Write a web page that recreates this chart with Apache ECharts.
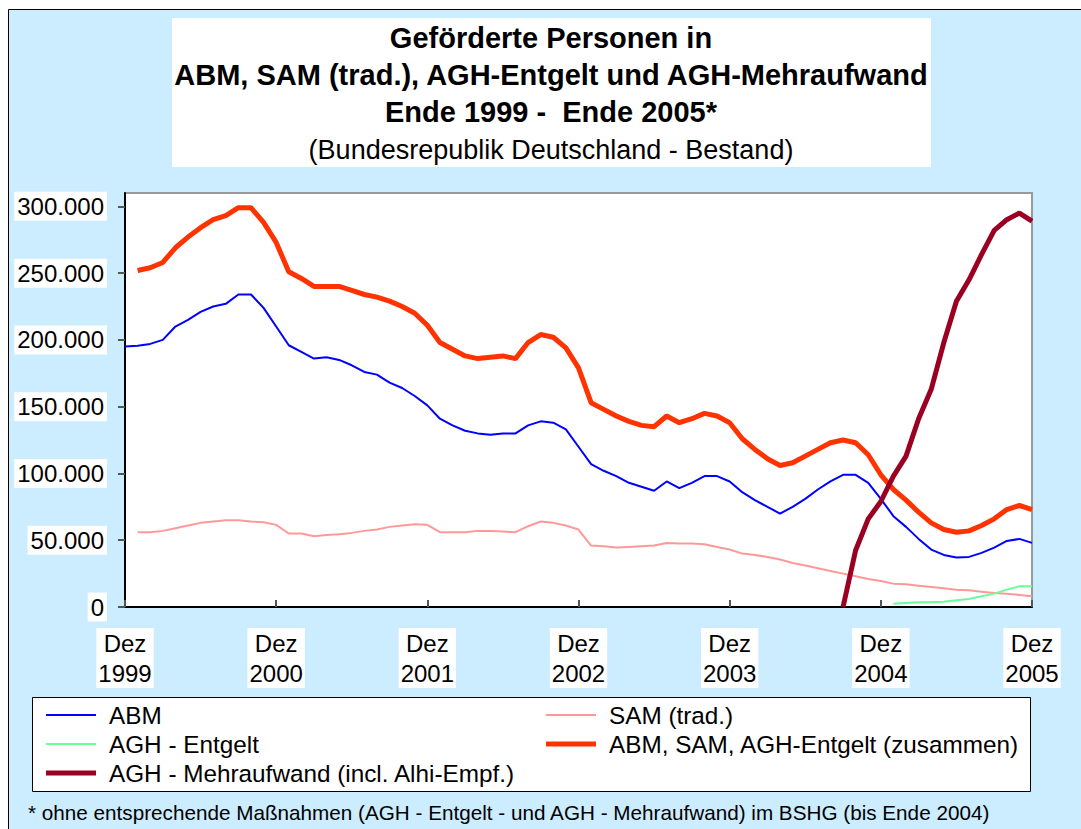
<!DOCTYPE html>
<html>
<head>
<meta charset="utf-8">
<title>Geförderte Personen</title>
<script src="https://cdn.jsdelivr.net/npm/echarts@6/dist/echarts.min.js"></script>
<style>
  html, body { margin: 0; padding: 0; background: #fff; }
  #chart { width: 1081px; height: 829px; }
</style>
</head>
<body>
<div id="chart"></div>
<script>
// Monate Dez 1999 .. Dez 2005
const months = []
for (let y = 1999; y <= 2005; y++) {
  const names = ['Jan', 'Feb', 'Mrz', 'Apr', 'Mai', 'Jun', 'Jul', 'Aug', 'Sep', 'Okt', 'Nov', 'Dez']
  names.forEach(function (m, k) {
    if (y === 1999 && k < 11) return
    months.push(m + '\n' + y)
  })
}

const abm = [
  195000, 195700, 197000, 200000, 210000, 215000, 221000, 225000, 227000, 234000, 234000, 224000,
  210000, 196000, 191000, 186000, 187000, 185000, 181000, 176000, 174000, 168000, 164000, 158000,
  151000, 141000, 136000, 132000, 130000, 129000, 130000, 130000, 136000, 139000, 138000, 133000,
  120000, 107000, 102000, 98000, 93000, 90000, 87000, 94000, 89000, 93000, 98000, 98000,
  94000, 86000, 80000, 75000, 70000, 75000, 81000, 88000, 94000, 99000, 99000, 93000,
  81000, 68000, 60000, 51000, 43000, 39000, 37000, 37500, 40500, 44500, 49500, 51000, 48000
]

const sam = [
  null, 56000, 56000, 57000, 59000, 61000, 63000, 64000, 65000, 65000, 64000, 63500,
  61500, 55000, 55000, 53000, 54000, 54500, 55500, 57000, 58000, 60000, 61000, 62000,
  61500, 56000, 56000, 56000, 57000, 57000, 56500, 56000, 60500, 64000, 63000, 61000,
  58000, 46000, 45500, 44500, 45000, 45500, 46000, 48000, 47500, 47500, 47000, 45000,
  43000, 40000, 39000, 37500, 35500, 33000, 31000, 29000, 27000, 25000, 23000, 21000,
  19500, 17500, 17000, 16000, 15000, 14000, 13000, 12500, 11500, 10500, 10000, 9000, 8000
]

const aghEntgelt = [
  null, null, null, null, null, null, null, null, null, null, null, null,
  null, null, null, null, null, null, null, null, null, null, null, null,
  null, null, null, null, null, null, null, null, null, null, null, null,
  null, null, null, null, null, null, null, null, null, null, null, null,
  null, null, null, null, null, null, null, null, null, null, null, null,
  null, 2500, 3000, 3500, 3500, 4000, 5000, 6000, 8000, 10000, 13000, 15500, 15500
]

const zusammen = [
  null, 252000, 254000, 258000, 269000, 277000, 284000, 290000, 293000, 299000, 299000, 288000,
  273000, 251000, 246000, 240000, 240000, 240000, 237000, 234000, 232000, 229000, 225000, 220000,
  211000, 198000, 193000, 188000, 186000, 187000, 188000, 186000, 198000, 204000, 202000, 194000,
  179000, 153000, 148000, 143000, 139000, 136000, 135000, 143000, 138000, 141000, 145000, 143000,
  138000, 126000, 118000, 111000, 106000, 108000, 113000, 118000, 123000, 125000, 123000, 114000,
  99000, 88000, 80000, 71000, 63000, 58000, 56000, 57000, 61000, 66000, 73000, 76000, 73000
]

const mehraufwand = [
  null, null, null, null, null, null, null, null, null, null, null, null,
  null, null, null, null, null, null, null, null, null, null, null, null,
  null, null, null, null, null, null, null, null, null, null, null, null,
  null, null, null, null, null, null, null, null, null, null, null, null,
  null, null, null, null, null, null, null, null, null, 0, 42500, 66000,
  79000, 98000, 113000, 141000, 163000, 198000, 229000, 245000, 264000, 282000, 290000, 295000, 289000
]

const yTicks = [0, 50000, 100000, 150000, 200000, 250000, 300000]

const FONT = '"Liberation Sans", Arial, sans-serif'

const myChart = echarts.init(document.getElementById('chart'), null, { renderer: 'svg' })

const fmt = function (v) {
  return String(v).replace(/\B(?=(\d{3})+(?!\d))/g, '.')
}

// Legendensymbol: einfache Linie (duenn / dick)
const thinLine = 'path://M0,0H50V2H0Z'
const thickLine = 'path://M0,0H50V5H0Z'

const option = {
  animation: false,
  backgroundColor: '#fff',
  textStyle: { fontFamily: FONT },
  graphic: [
    // Hintergrund
    {
      type: 'rect', z: -10, silent: true,
      shape: { x: 8.5, y: 9.5, width: 1100, height: 900 },
      style: { fill: '#CCECFF', stroke: '#000', lineWidth: 1 }
    },
    // Titelbox
    {
      type: 'rect', z: -9, silent: true,
      shape: { x: 172, y: 18, width: 759, height: 149 },
      style: { fill: '#fff' }
    },
    {
      type: 'text', x: 551, y: 38, silent: true,
      style: { text: 'Geförderte Personen in', font: 'bold 29px ' + FONT, fill: '#000', textAlign: 'center', textVerticalAlign: 'middle' }
    },
    {
      type: 'text', x: 551, y: 75, silent: true,
      style: { text: 'ABM, SAM (trad.), AGH-Entgelt und AGH-Mehraufwand', font: 'bold 29px ' + FONT, fill: '#000', textAlign: 'center', textVerticalAlign: 'middle' }
    },
    {
      type: 'text', x: 551, y: 112, silent: true,
      style: { text: 'Ende 1999 -  Ende 2005*', font: 'bold 29px ' + FONT, fill: '#000', textAlign: 'center', textVerticalAlign: 'middle' }
    },
    {
      type: 'text', x: 551, y: 150, silent: true,
      style: { text: '(Bundesrepublik Deutschland - Bestand)', font: '27px ' + FONT, fill: '#000', textAlign: 'center', textVerticalAlign: 'middle' }
    },
    // Legendenbox
    {
      type: 'rect', z: -8, silent: true,
      shape: { x: 32.5, y: 697.5, width: 998, height: 94 },
      style: { fill: '#fff', stroke: '#000', lineWidth: 1 }
    },
    // Fussnote
    {
      type: 'text', x: 28, y: 812.5, silent: true,
      style: { text: '* ohne entsprechende Maßnahmen (AGH - Entgelt - und AGH - Mehraufwand) im BSHG (bis Ende 2004)', font: '20.7px ' + FONT, fill: '#000', textAlign: 'left', textVerticalAlign: 'middle' }
    }
  ],
  legend: [
    {
      left: 46, top: 703, orient: 'vertical', padding: 0,
      itemWidth: 50, itemHeight: 14, itemGap: 5,
      textStyle: { fontSize: 24.3, color: '#000', fontFamily: FONT, padding: [0, 0, 0, 8] },
      data: [
        { name: 'ABM', icon: thinLine },
        { name: 'AGH - Entgelt', icon: thinLine },
        { name: 'AGH - Mehraufwand (incl. Alhi-Empf.)', icon: thickLine }
      ]
    },
    {
      left: 546, top: 703, orient: 'vertical', padding: 0,
      itemWidth: 50, itemHeight: 14, itemGap: 5,
      textStyle: { fontSize: 24.3, color: '#000', fontFamily: FONT, padding: [0, 0, 0, 8] },
      data: [
        { name: 'SAM (trad.)', icon: thinLine },
        { name: 'ABM, SAM, AGH-Entgelt (zusammen)', icon: thickLine }
      ]
    }
  ],
  grid: {
    left: 125, top: 193, right: 49, bottom: 222,
    show: true, backgroundColor: '#fff', borderColor: '#999', borderWidth: 2
  },
  xAxis: {
    type: 'category',
    boundaryGap: false,
    data: months,
    axisLine: { lineStyle: { color: '#000', width: 2 } },
    axisTick: {
      inside: true, length: 7,
      interval: function (i) { return i % 12 === 0 },
      lineStyle: { color: '#555', width: 2 }
    },
    axisLabel: {
      interval: function (i) { return i % 12 === 0 },
      formatter: function (v) { return v.replace(/^\w+/, 'Dez') },
      fontSize: 24, color: '#000', fontFamily: FONT,
      lineHeight: 30, margin: 21,
      backgroundColor: '#fff', padding: [0, 2]
    },
    splitLine: { show: false }
  },
  yAxis: {
    type: 'value',
    min: 0, max: 310000,
    axisLine: { show: true, lineStyle: { color: '#000', width: 2 } },
    axisTick: { show: true, length: 7, customValues: yTicks, lineStyle: { color: '#555', width: 2 } },
    axisLabel: {
      customValues: yTicks,
      formatter: fmt,
      fontSize: 24, color: '#000', fontFamily: FONT,
      margin: 18, backgroundColor: '#fff', padding: [3, 3, 2, 3]
    },
    splitLine: { show: false }
  },
  series: [
    {
      name: 'ABM', type: 'line', data: abm, symbol: 'none',
      lineStyle: { color: '#0000FF', width: 2 }, itemStyle: { color: '#0000FF' }
    },
    {
      name: 'SAM (trad.)', type: 'line', data: sam, symbol: 'none',
      lineStyle: { color: '#FF9999', width: 2 }, itemStyle: { color: '#FF9999' }
    },
    {
      name: 'AGH - Entgelt', type: 'line', data: aghEntgelt, symbol: 'none',
      lineStyle: { color: '#66FF99', width: 2 }, itemStyle: { color: '#66FF99' }
    },
    {
      name: 'ABM, SAM, AGH-Entgelt (zusammen)', type: 'line', data: zusammen, symbol: 'none',
      lineStyle: { color: '#FF3300', width: 5 }, itemStyle: { color: '#FF3300' }
    },
    {
      name: 'AGH - Mehraufwand (incl. Alhi-Empf.)', type: 'line', data: mehraufwand, symbol: 'none',
      lineStyle: { color: '#990022', width: 5 }, itemStyle: { color: '#990022' }
    }
  ]
}

myChart.setOption(option)
window.addEventListener('resize', () => {
  myChart?.resize()
})
</script>
</body>
</html>
